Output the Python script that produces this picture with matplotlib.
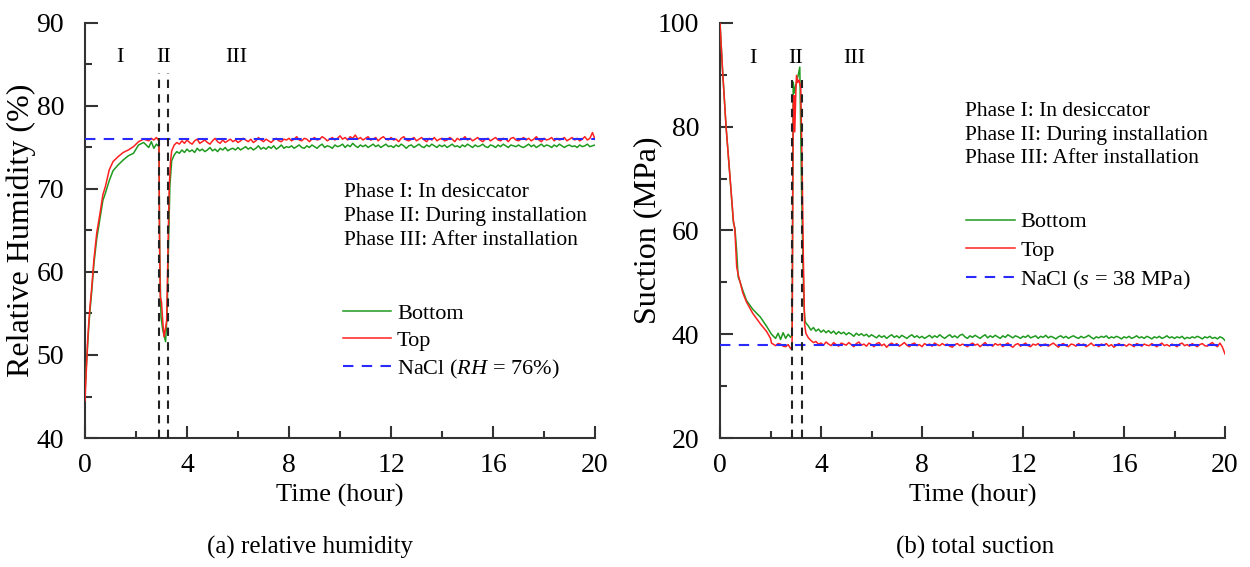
import numpy as np
import matplotlib
matplotlib.use("Agg")
import matplotlib.pyplot as plt

plt.rcParams['font.family'] = ['Liberation Serif', 'DejaVu Serif']
plt.rcParams['mathtext.fontset'] = 'custom'
plt.rcParams['mathtext.rm'] = 'Liberation Serif'
plt.rcParams['mathtext.it'] = 'Liberation Serif:italic'

# ---------- (a) relative humidity ----------
rh_t_early = [0, 0.05, 0.1, 0.15, 0.2, 0.26, 0.35, 0.46, 0.59, 0.7, 0.8, 0.95, 1.1, 1.3, 1.5,
              1.7, 1.9, 2.1, 2.3, 2.5, 2.6, 2.7, 2.8, 2.9]
rh_top_early = [44.5, 48, 51.5, 54, 56, 58, 61.5, 64.7, 67.1, 69.3, 70.3, 72.3, 73.3, 73.9, 74.4,
                74.7, 75.1, 75.7, 76.0, 75.8, 76.1, 75.9, 76.2, 75.8]
rh_bot_early = [45.5, 48.5, 51, 53.5, 55.5, 57.5, 61, 64, 66.5, 68.6, 69.5, 71, 72.2, 72.9, 73.5,
                74.0, 74.3, 75.3, 75.6, 75.0, 75.7, 74.9, 75.4, 75.1]

rh_t_top_inst = [2.92, 2.95, 3.0, 3.05, 3.1, 3.2, 3.25, 3.3, 3.35]
rh_top_inst = [65, 57, 56.4, 54, 52.2, 54, 62, 70, 73.2]
rh_t_bot_inst = [2.93, 2.98, 3.05, 3.16, 3.22, 3.28, 3.33, 3.38]
rh_bot_inst = [62, 54.6, 53, 51.6, 55, 64, 70.5, 72.6]

# phase III sampled every 0.1 h from 3.4 h to 20.0 h
t_late = np.round(np.arange(3.4, 20.001, 0.1), 1)
rh_top_late = [
    74.6, 75.3, 75.6, 75.4, 75.8, 75.5,
    75.9, 75.6, 75.4, 75.8, 76.0, 75.5, 75.7, 75.9, 75.6, 75.4,
    75.8, 76.1, 75.7, 75.5, 75.9, 75.6, 75.8, 76.0, 75.7, 75.9,
    75.6, 75.8, 76.1, 75.9, 75.7, 76.0, 75.6, 75.8, 76.2, 75.9,
    75.7, 76.0, 75.8, 75.6, 75.9, 76.1, 75.8, 75.7, 76.0, 75.9,
    76.1, 75.8, 76.0, 76.3, 75.9, 75.8, 76.1, 76.0, 75.7, 76.0,
    76.2, 75.9, 76.0, 76.3, 76.1, 75.8, 76.0, 76.2, 75.9, 76.1,
    76.4, 76.0, 76.2, 75.9, 76.3, 76.1, 76.5, 76.0, 76.2, 75.9,
    76.1, 76.3, 75.9, 76.0, 76.2, 75.8, 76.1, 76.3, 76.0, 75.9,
    76.2, 75.9, 76.0, 75.7, 76.1, 76.3, 75.9, 75.8, 76.0, 76.2,
    75.8, 76.0, 76.2, 75.9, 75.7, 76.1, 75.9, 76.2, 75.8, 76.0,
    76.1, 75.8, 75.9, 76.2, 76.0, 75.7, 76.1, 75.9, 76.0, 76.3,
    75.9, 76.1, 75.8, 76.0, 76.2, 75.9, 75.7, 76.0, 76.1, 75.8,
    76.0, 76.2, 75.9, 75.8, 76.1, 76.0, 75.7, 76.1, 76.2, 75.9,
    75.8, 76.0, 76.2, 75.9, 76.1, 75.8, 76.0, 76.3, 75.9, 75.7,
    76.1, 75.9, 76.0, 76.2, 75.8, 76.1, 75.9, 76.0, 76.2, 75.8,
    76.0, 76.2, 75.9, 76.1, 75.8, 76.0, 76.3, 75.9, 76.1, 76.8,
    76.0]
rh_bot_late = [
    73.4, 74.1, 74.5, 74.3, 74.7, 74.4,
    74.8, 74.5, 74.7, 74.4, 74.9, 74.6, 74.8, 74.5, 74.7, 75.0,
    74.6, 74.8, 74.5, 74.9, 74.7, 75.0, 74.6, 74.8, 74.9, 74.7,
    75.0, 74.7, 74.9, 75.1, 74.8, 75.0, 74.7, 74.9, 75.2, 74.8,
    75.0, 74.8, 75.1, 74.9, 75.2, 74.8, 75.0, 75.3, 74.9, 75.1,
    75.0, 75.2, 74.9, 75.1, 75.3, 75.0, 74.9, 75.2, 75.0, 75.3,
    75.1, 74.9, 75.2, 75.4, 75.0, 75.2, 75.1, 74.9, 75.3, 75.1,
    75.2, 75.4, 75.0, 75.3, 75.1, 75.5, 75.2, 75.0, 75.3, 75.1,
    75.3, 75.0, 75.2, 75.4, 75.1, 75.3, 75.0, 75.2, 75.4, 75.1,
    75.2, 75.0, 75.3, 75.1, 75.4, 75.2, 74.9, 75.2, 75.3, 75.0,
    75.2, 75.4, 75.1, 75.0, 75.3, 75.1, 75.4, 75.2, 75.0, 75.3,
    75.1, 75.3, 75.0, 75.2, 75.4, 75.1, 75.2, 75.0, 75.3, 75.1,
    75.4, 75.2, 75.0, 75.3, 75.1, 75.2, 75.4, 75.1, 75.0, 75.3,
    75.2, 75.0, 75.3, 75.1, 75.4, 75.2, 75.0, 75.3, 75.2, 75.1,
    75.3, 75.1, 75.0, 75.2, 75.4, 75.1, 75.3, 75.0, 75.2, 75.4,
    75.1, 75.3, 75.2, 75.0, 75.3, 75.1, 75.4, 75.2, 75.0, 75.2,
    75.3, 75.1, 75.2, 75.0, 75.3, 75.1, 75.2, 75.4, 75.1, 75.2,
    75.3]

# ---------- (b) total suction ----------
s_t_early = [0, 0.1, 0.24, 0.4, 0.53, 0.59, 0.66, 0.72, 0.8, 0.9, 1.05, 1.3, 1.6, 1.85, 2.0,
             2.04, 2.2, 2.3, 2.4, 2.5, 2.6, 2.7, 2.8, 2.85]
s_top_early = [100, 91, 80, 70, 62, 60, 53, 51.5, 50, 48, 46.2, 44, 42, 40.5, 39.2,
               38.3, 37.8, 38.2, 38.1, 37.7, 37.6, 38.0, 37.2, 37.5]
s_bot_early = [100, 91, 80, 70, 61.5, 60.5, 56, 51, 50, 48.5, 46.5, 44.8, 43.3, 41.5, 40.3,
               40.0, 39.2, 40.2, 39.0, 40.3, 39.2, 40.0, 39.4, 39.8]

s_t_top_inst = [2.86, 2.88, 2.9, 2.93, 2.96, 3.0, 3.03, 3.08, 3.13, 3.2, 3.26, 3.3, 3.35]
s_top_inst = [40, 65, 84, 86, 79, 86, 89.9, 88.5, 89, 87.5, 70, 55, 42]
s_t_bot_inst = [2.86, 2.88, 2.9, 2.95, 3.0, 3.05, 3.1, 3.16, 3.2, 3.23, 3.28, 3.33, 3.37]
s_bot_inst = [42, 70, 88.6, 86.5, 88, 89, 90, 91.5, 78, 68, 55, 45, 42.5]

s_top_late = [
    40.2, 39.3, 38.8, 38.4, 38.6, 38.1,
    38.3, 37.9, 38.5, 38.1, 37.8, 38.4, 38.0, 37.7, 38.3, 38.1,
    37.9, 38.4, 38.0, 37.6, 38.2, 38.5, 37.9, 38.1, 37.7, 38.3,
    38.0, 37.6, 38.2, 38.4, 37.8, 38.1, 37.5, 38.0, 38.3, 37.9,
    38.2, 37.7, 38.0, 38.4, 37.9, 37.6, 38.1, 38.3, 37.8, 38.0,
    37.6, 38.2, 37.9, 38.1, 37.7, 38.3, 38.0, 37.8, 38.2, 37.9,
    38.1, 37.7, 37.5, 38.0, 38.2, 37.8, 38.1, 37.9, 37.6, 38.0,
    38.3, 37.9, 38.1, 37.6, 38.0, 38.4, 37.8, 38.0, 37.7, 38.2,
    37.9, 38.1, 37.6, 38.0, 38.3, 37.8, 37.5, 38.0, 38.2, 37.7,
    38.0, 38.3, 37.8, 37.6, 38.1, 37.9, 38.2, 37.7, 38.0, 38.1,
    37.7, 38.0, 38.3, 37.9, 37.5, 38.0, 38.2, 37.8, 37.6, 38.1,
    38.0, 37.7, 38.2, 37.9, 38.1, 37.6, 37.9, 38.3, 37.8, 38.0,
    37.6, 38.1, 37.9, 38.2, 37.7, 38.0, 37.5, 37.9, 38.2, 37.8,
    38.0, 37.7, 38.1, 37.9, 37.6, 38.2, 38.0, 37.7, 38.1, 37.9,
    37.8, 38.2, 37.9, 37.6, 38.0, 38.3, 37.8, 38.0, 37.7, 38.1,
    37.9, 37.6, 38.1, 38.3, 37.8, 38.0, 37.7, 38.2, 37.9, 37.6,
    38.0, 38.2, 37.8, 37.7, 38.1, 38.4, 37.9, 37.6, 38.3, 37.5,
    36.2]
s_bot_late = [
    42.2, 41.6, 40.8, 41.3, 40.6, 41.0,
    40.4, 40.8, 40.3, 40.7, 40.2, 40.6, 40.0, 40.5, 40.1, 40.4,
    39.9, 40.3, 40.0, 39.6, 40.2, 39.8, 40.1, 39.7, 40.0, 39.5,
    39.9, 39.6, 39.3, 39.8, 39.4, 39.7, 39.2, 39.6, 39.9, 39.4,
    39.7, 39.3, 39.8, 39.5, 39.2, 39.6, 39.9, 39.4, 39.7, 39.3,
    39.6, 39.2, 39.5, 39.8, 39.3, 39.7, 39.4, 39.9, 39.5, 39.2,
    39.6, 39.9, 39.4, 39.7, 39.3, 39.8, 40.0, 39.5, 39.2, 39.7,
    39.4, 39.8, 39.5, 39.2, 39.6, 39.9, 39.3, 39.7, 39.4, 39.8,
    39.5, 39.2, 39.7, 39.4, 39.9, 39.6, 39.3, 39.7, 39.5, 39.2,
    39.6, 39.4, 39.8, 39.3, 39.5, 39.7, 39.2, 39.6, 39.4, 39.8,
    39.3, 39.6, 39.4, 39.1, 39.5, 39.7, 39.3, 39.6, 39.2, 39.5,
    39.7, 39.4, 39.2, 39.6, 39.3, 39.5, 39.8, 39.4, 39.1, 39.5,
    39.3, 39.6, 39.4, 39.7, 39.2, 39.5, 39.3, 39.6, 39.4, 39.1,
    39.5, 39.3, 39.6, 39.2, 39.4, 39.7, 39.3, 39.5, 39.2, 39.6,
    39.4, 39.1, 39.5, 39.3, 39.6, 39.2, 39.4, 39.7, 39.3, 39.5,
    39.2, 39.5, 39.3, 39.6, 39.1, 39.4, 39.2, 39.5, 39.3, 39.6,
    39.4, 39.1, 39.5, 39.3, 39.6, 39.2, 39.4, 39.1, 39.5, 39.3,
    38.8]

phase_bounds_rh = [2.9, 3.25]
phase_bounds_s = [2.85, 3.25]
rh_nacl = 76
s_nacl = 38

green = '#1f9a1f'
red = '#ff2020'
blue = '#2a2aff'

phase_note = 'Phase I: In desiccator\nPhase II: During installation\nPhase III: After installation'


def join(*parts):
    return np.concatenate([np.asarray(p, dtype=float) for p in parts])


def style_axes(ax, ylim, yticks, yminor):
    ax.set_xlim(0, 20)
    ax.set_ylim(*ylim)
    ax.set_xticks([0, 4, 8, 12, 16, 20])
    ax.set_xticks([2, 6, 10, 14, 18], minor=True)
    ax.set_yticks(yticks)
    ax.set_yticks(yminor, minor=True)
    for side in ['top', 'right']:
        ax.spines[side].set_visible(False)
    for side in ['left', 'bottom']:
        ax.spines[side].set_linewidth(1.5)
        ax.spines[side].set_color('#333333')
    ax.tick_params(which='major', direction='in', length=9, width=1.5, labelsize=20,
                   color='#333333')
    ax.tick_params(axis='x', which='major', pad=11)
    ax.tick_params(axis='y', which='major', pad=15)
    ax.tick_params(which='minor', direction='in', length=5, width=1.5, color='#333333')
    ax.set_xlabel('Time (hour)', fontsize=19, labelpad=4)


fig = plt.figure(figsize=(12.5, 5.67), dpi=100)
ax1 = fig.add_axes([0.068, 0.2275, 0.408, 0.732])
ax2 = fig.add_axes([0.576, 0.2275, 0.404, 0.732])

# ----- left panel -----
ax1.plot(join(rh_t_early, rh_t_bot_inst, t_late), join(rh_bot_early, rh_bot_inst, rh_bot_late),
         color=green, lw=1.1, label='Bottom', zorder=3)
ax1.plot(join(rh_t_early, rh_t_top_inst, t_late), join(rh_top_early, rh_top_inst, rh_top_late),
         color=red, lw=1.1, label='Top', zorder=4)
ax1.axhline(rh_nacl, color=blue, lw=1.5, ls=(0, (5, 4)), label='NaCl ($\\it{RH}$ = 76%)', zorder=5)
for xb in phase_bounds_rh:
    ax1.plot([xb, xb], [40, 84], color='#222222', lw=1.5, ls=(0, (4, 3)), zorder=6)
style_axes(ax1, (40, 90), [40, 50, 60, 70, 80, 90], [45, 55, 65, 75, 85])
ax1.set_ylabel('Relative Humidity (%)', fontsize=23)
ax1.yaxis.set_label_coords(-0.096, 0.5)
for lab, xp in zip(['I', 'II', 'III'], [1.35, 3.07, 5.95]):
    ax1.text(xp, 85.8, lab, fontsize=16, ha='center', va='center')
ax1.text(0.508, 0.533, phase_note, transform=ax1.transAxes, fontsize=15.5,
         va='center', ha='left', linespacing=1.35)
ax1.legend(loc='upper left', bbox_to_anchor=(0.505, 0.325), frameon=False, fontsize=16,
           handlelength=2.2, handletextpad=0.25, labelspacing=0.3, borderpad=0, borderaxespad=0)

# ----- right panel -----
ax2.plot(join(s_t_early, s_t_bot_inst, t_late), join(s_bot_early, s_bot_inst, s_bot_late),
         color=green, lw=1.1, label='Bottom', zorder=3)
ax2.plot(join(s_t_early, s_t_top_inst, t_late), join(s_top_early, s_top_inst, s_top_late),
         color=red, lw=1.1, label='Top', zorder=4)
ax2.axhline(s_nacl, color=blue, lw=1.5, ls=(0, (5, 4)), label='NaCl ($\\it{s}$ = 38 MPa)', zorder=5)
for xb in phase_bounds_s:
    ax2.plot([xb, xb], [20, 89], color='#222222', lw=1.5, ls=(0, (4, 3)), zorder=6)
style_axes(ax2, (20, 100), [20, 40, 60, 80, 100], [30, 50, 70, 90])
ax2.set_ylabel('Suction (MPa)', fontsize=23)
ax2.yaxis.set_label_coords(-0.115, 0.5)
for lab, xp in zip(['I', 'II', 'III'], [1.3, 3.0, 5.3]):
    ax2.text(xp, 93.2, lab, fontsize=16, ha='center', va='center')
ax2.text(0.485, 0.73, phase_note, transform=ax2.transAxes, fontsize=15.5,
         va='center', ha='left', linespacing=1.35)
ax2.legend(loc='upper left', bbox_to_anchor=(0.487, 0.545), frameon=False, fontsize=16,
           handlelength=2.2, handletextpad=0.25, labelspacing=0.35, borderpad=0, borderaxespad=0)

fig.text(0.248, 0.034, '(a) relative humidity', fontsize=18, ha='center', va='center')
fig.text(0.78, 0.034, '(b) total suction', fontsize=18, ha='center', va='center')

fig.savefig('out.png', dpi=100)
